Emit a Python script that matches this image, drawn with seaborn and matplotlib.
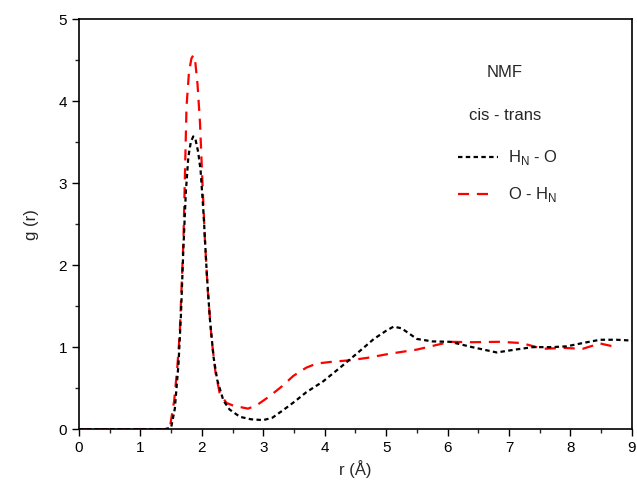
import matplotlib
matplotlib.use("Agg")
import matplotlib.pyplot as plt
import seaborn as sns
import pandas as pd
from matplotlib.ticker import MultipleLocator

sns.set_style("ticks")
plt.rcParams['font.family'] = ['Liberation Sans', 'DejaVu Sans']
plt.rcParams['mathtext.fontset'] = 'custom'
plt.rcParams['mathtext.rm'] = 'Liberation Sans'

# H_N - O (black, short dashes)
r_hno = [0.0, 0.5, 1.0, 1.4, 1.5, 1.56, 1.62, 1.66, 1.70, 1.74, 1.78, 1.82, 1.86, 1.90, 1.94, 1.98,
         2.03, 2.08, 2.13, 2.19, 2.25, 2.35, 2.45, 2.62, 2.8, 3.0, 3.15, 3.32, 3.5, 3.7, 3.97,
         4.25, 4.52, 4.8, 5.0, 5.12, 5.25, 5.5, 5.75, 6.04, 6.4, 6.8, 7.1, 7.39, 7.7, 7.94,
         8.2, 8.48, 8.75, 9.0]
g_hno = [0.0, 0.0, 0.0, 0.0, 0.02, 0.25, 0.8, 1.4, 2.22, 2.9, 3.32, 3.5, 3.57, 3.52, 3.38, 3.15,
         2.6, 1.9, 1.35, 0.88, 0.6, 0.35, 0.24, 0.15, 0.12, 0.11, 0.14, 0.23, 0.33, 0.45, 0.58,
         0.75, 0.92, 1.1, 1.2, 1.25, 1.23, 1.1, 1.07, 1.065, 1.0, 0.935, 0.97, 1.0, 1.0, 1.01,
         1.05, 1.09, 1.09, 1.08]

# O - H_N (red, long dashes)
r_ohn = [0.0, 0.5, 1.0, 1.4, 1.48, 1.55, 1.6, 1.64, 1.70, 1.75, 1.79, 1.83, 1.86, 1.89, 1.93, 1.97,
         2.01, 2.05, 2.10, 2.16, 2.22, 2.29, 2.4, 2.5, 2.62, 2.75, 2.89, 3.1, 3.3, 3.49, 3.7, 3.87,
         4.1, 4.41, 4.7, 5.06, 5.5, 6.04, 6.4, 6.85, 7.2, 7.55, 7.9, 8.2, 8.48, 8.75]
g_ohn = [0.0, 0.0, 0.0, 0.0, 0.02, 0.35, 0.75, 1.17, 2.3, 3.93, 4.35, 4.52, 4.56, 4.5, 4.2, 3.73,
         3.0, 2.3, 1.65, 1.09, 0.7, 0.44, 0.32, 0.29, 0.27, 0.25, 0.29, 0.4, 0.52, 0.65, 0.75, 0.80,
         0.82, 0.84, 0.87, 0.92, 0.97, 1.065, 1.06, 1.065, 1.05, 0.98, 0.99, 0.98, 1.045, 1.0]

df1 = pd.DataFrame({"r": r_hno, "g": g_hno})
df2 = pd.DataFrame({"r": r_ohn, "g": g_ohn})

fig = plt.figure(figsize=(6.37, 4.91), dpi=100)
ax = fig.add_axes([0.124, 0.126, 0.868, 0.835])

sns.lineplot(data=df2, x="r", y="g", ax=ax, color="#ff0000", linewidth=1.6,
             dashes=False, estimator=None, sort=False)
sns.lineplot(data=df1, x="r", y="g", ax=ax, color="black", linewidth=1.6,
             dashes=False, estimator=None, sort=False)
ax.lines[0].set_dashes([5, 3.5])
ax.lines[1].set_dashes([2, 1.5])

ax.set_xlim(0, 9)
ax.set_ylim(0, 5)
ax.xaxis.set_major_locator(MultipleLocator(1))
ax.xaxis.set_minor_locator(MultipleLocator(0.5))
ax.yaxis.set_major_locator(MultipleLocator(1))
ax.yaxis.set_minor_locator(MultipleLocator(0.5))
ax.tick_params(which='major', direction='out', length=5, width=1, labelsize=11, colors='black')
ax.tick_params(which='minor', direction='out', length=3, width=1)
for s in ax.spines.values():
    s.set_linewidth(1.2)
    s.set_color('black')

ax.set_xlabel("r (Å)", fontsize=12, labelpad=4)
ax.set_ylabel("g (r)", fontsize=12, labelpad=14)

# annotation / legend
def px(x, y):
    return ((x - 79) / (632 - 79) * 9, (429 - y) / (429 - 19) * 5)

fs = 12
ax.text(*px(505, 72), "NMF", fontsize=fs, ha='center', va='center')
ax.text(*px(505, 115), "cis - trans", fontsize=fs, ha='center', va='center')
x0, y0 = px(458, 157)
x1, _ = px(498, 157)
ax.plot([x0, x1], [y0, y0], color='black', linewidth=1.6, dashes=[2, 1.5])
ax.text(*px(508, 157), r"H$_\mathregular{N}$ - O", fontsize=fs, ha='left', va='center')
x0, y0 = px(458, 194)
x1, _ = px(492, 194)
ax.plot([x0, x1], [y0, y0], color='#ff0000', linewidth=1.6, dashes=[5, 3.5])
ax.text(*px(508, 194), r"O - H$_\mathregular{N}$", fontsize=fs, ha='left', va='center')

fig.savefig("out.png", dpi=100)
